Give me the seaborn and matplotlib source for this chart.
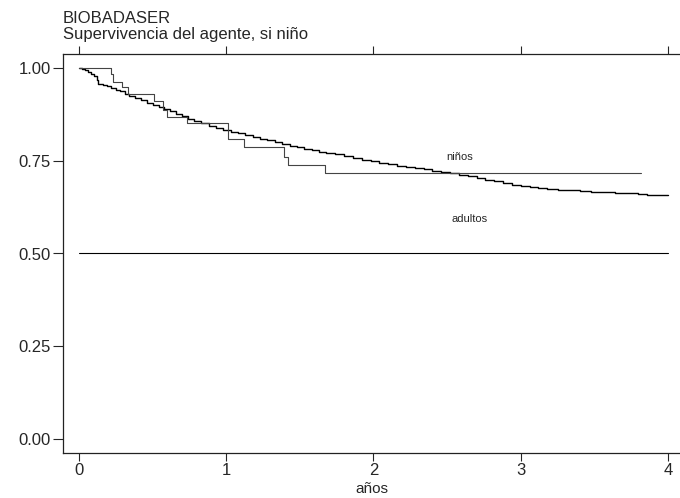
import seaborn as sns
import matplotlib.pyplot as plt
import pandas as pd

# Kaplan-Meier estimates
ninos_t = [0.0, 0.22, 0.233, 0.29, 0.335, 0.511, 0.573, 0.60, 0.73, 1.01, 1.12, 1.39, 1.42, 1.67, 3.82]
ninos_s = [1.0, 0.984, 0.963, 0.949, 0.929, 0.910, 0.887, 0.869, 0.851, 0.808, 0.786, 0.761, 0.740, 0.716, 0.716]

adultos_t = [0.00, 0.02, 0.04, 0.06, 0.08, 0.10, 0.12, 0.13, 0.16, 0.19, 0.22, 0.25, 0.28, 0.31,
             0.34, 0.38, 0.42, 0.46, 0.50, 0.54, 0.58, 0.62, 0.66, 0.70, 0.74, 0.78, 0.83, 0.88,
             0.93, 0.98, 1.03, 1.08, 1.13, 1.18, 1.23, 1.28, 1.33, 1.38, 1.43, 1.48, 1.53, 1.58,
             1.63, 1.68, 1.74, 1.80, 1.86, 1.92, 1.98, 2.04, 2.10, 2.16, 2.22, 2.28, 2.34, 2.40,
             2.46, 2.52, 2.58, 2.64, 2.70, 2.76, 2.82, 2.88, 2.94, 3.00, 3.06, 3.12, 3.18, 3.25,
             3.32, 3.40, 3.48, 3.56, 3.64, 3.72, 3.80, 3.86, 4.00]
adultos_s = [1.000, 0.997, 0.994, 0.990, 0.984, 0.978, 0.968, 0.957, 0.954, 0.951, 0.947, 0.942,
             0.937, 0.931, 0.925, 0.919, 0.913, 0.906, 0.900, 0.895, 0.889, 0.883, 0.876, 0.870,
             0.864, 0.857, 0.851, 0.845, 0.839, 0.833, 0.828, 0.824, 0.819, 0.814, 0.809, 0.805,
             0.801, 0.796, 0.791, 0.787, 0.783, 0.779, 0.775, 0.771, 0.767, 0.762, 0.757, 0.753,
             0.749, 0.745, 0.741, 0.737, 0.734, 0.730, 0.727, 0.723, 0.720, 0.716, 0.712, 0.708,
             0.703, 0.699, 0.695, 0.691, 0.686, 0.683, 0.680, 0.677, 0.674, 0.672, 0.670, 0.668,
             0.667, 0.666, 0.664, 0.662, 0.660, 0.658, 0.658]

ref_t = [0.0, 4.0]
ref_s = [0.5, 0.5]

y_ticks = [0.0, 0.25, 0.5, 0.75, 1.0]
x_ticks = [0, 1, 2, 3, 4]

sns.set_theme(style="ticks")
plt.rcParams["font.family"] = ["Liberation Sans Narrow", "Liberation Sans", "DejaVu Sans"]

fig = plt.figure(figsize=(6.8, 4.98), dpi=100)
ax = fig.add_axes([63 / 680, 45 / 498, 617 / 680, 399 / 498])

ninos = pd.DataFrame({"t": ninos_t, "s": ninos_s})
adultos = pd.DataFrame({"t": adultos_t, "s": adultos_s})
ref = pd.DataFrame({"t": ref_t, "s": ref_s})

sns.lineplot(data=adultos, x="t", y="s", drawstyle="steps-post", color="black", lw=1.0, ax=ax)
sns.lineplot(data=ninos, x="t", y="s", drawstyle="steps-post", color="#444444", lw=0.8, ax=ax)
sns.lineplot(data=ref, x="t", y="s", color="black", lw=0.8, ax=ax)

ax.text(2.587, 0.759, "niños", fontsize=8, ha="center", va="center")
ax.text(2.655, 0.594, "adultos", fontsize=8, ha="center", va="center")

ax.set_xlim(-0.109, 4.082)
ax.set_ylim(-0.038, 1.038)
ax.set_xticks(x_ticks)
ax.set_yticks(y_ticks)
ax.set_yticklabels([f"{v:.2f}" for v in y_ticks])
ax.set_xlabel("años", fontsize=11, labelpad=3)
ax.set_ylabel("")

for side in ["left", "bottom", "top"]:
    ax.spines[side].set_visible(True)
    ax.spines[side].set_linewidth(0.9)
    ax.spines[side].set_color("#222222")
ax.spines["right"].set_visible(False)

ax.tick_params(axis="y", length=7, width=0.8, labelsize=12, pad=2)
ax.tick_params(axis="x", length=6, width=0.8, labelsize=12, pad=1, top=True, labeltop=False)

fig.text(63 / 680, 1 - 23 / 498, "BIOBADASER", fontsize=12, ha="left", va="baseline")
fig.text(63 / 680, 1 - 39 / 498, "Supervivencia del agente, si niño", fontsize=12, ha="left", va="baseline")

fig.savefig("out.png", dpi=100)
plt.close(fig)
